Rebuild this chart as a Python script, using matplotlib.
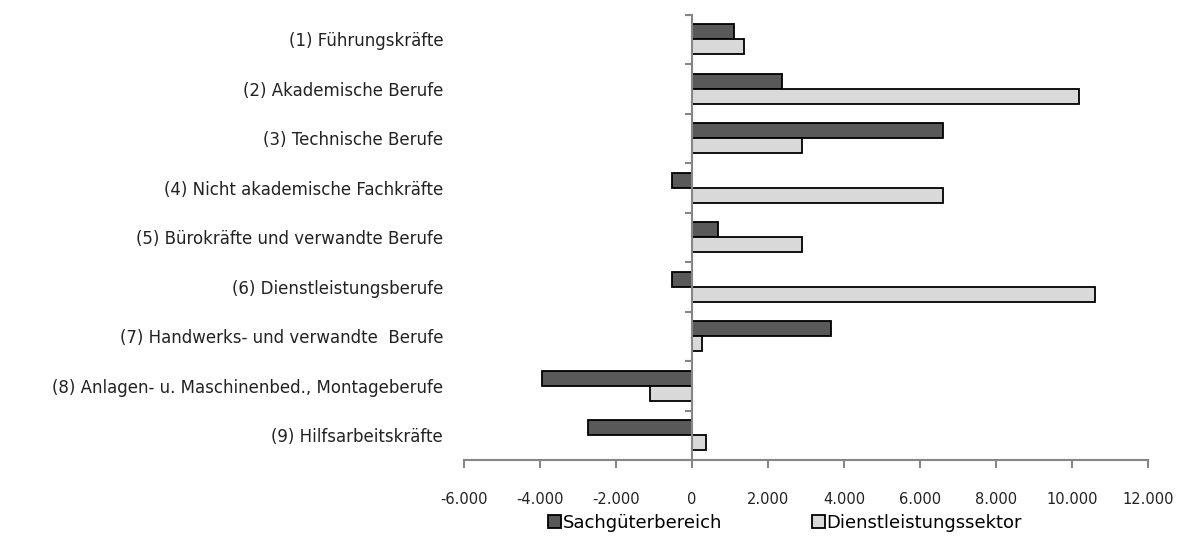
import numpy as np
import matplotlib.pyplot as plt
from matplotlib.ticker import FuncFormatter

plt.rcParams['font.family'] = ['DejaVu Sans']

berufe = ["(1) Führungskräfte",
          "(2) Akademische Berufe",
          "(3) Technische Berufe",
          "(4) Nicht akademische Fachkräfte",
          "(5) Bürokräfte und verwandte Berufe",
          "(6) Dienstleistungsberufe",
          "(7) Handwerks- und verwandte  Berufe",
          "(8) Anlagen- u. Maschinenbed., Montageberufe",
          "(9) Hilfsarbeitskräfte"]
sachgueter = [1100, 2370, 6610, -530, 690, -530, 3670, -3940, -2725]
dienstleistung = [1370, 10180, 2890, 6610, 2890, 10600, 265, -1100, 380]
xticks = [-6000, -4000, -2000, 0, 2000, 4000, 6000, 8000, 10000, 12000]

grau = '#868686'

fig = plt.figure(figsize=(11.77, 5.4), dpi=100)
ax = fig.add_axes([0.3942, 0.1481, 0.5811, 0.825])

y = np.arange(len(berufe))
h = 0.3
ax.barh(y - h/2, sachgueter, height=h, color='#595959', edgecolor='black',
        linewidth=1.3, label='Sachgüterbereich', zorder=3)
ax.barh(y + h/2, dienstleistung, height=h, color='#D9D9D9', edgecolor='black',
        linewidth=1.3, label='Dienstleistungssektor', zorder=3)

ax.set_xlim(-6000, 12000)
ax.set_ylim(len(berufe) - 0.5, -0.5)
ax.set_xticks(xticks)
ax.xaxis.set_major_formatter(FuncFormatter(lambda v, p: f"{int(v):,}".replace(",", ".")))
ax.tick_params(axis='x', length=6, width=1.5, color=grau, labelsize=10.5, pad=17,
               labelcolor='#222222')

ax.set_yticks(y)
ax.set_yticklabels(berufe)
ax.tick_params(axis='y', length=0, labelsize=12, pad=15, labelcolor='#222222')

for s in ['top', 'right', 'left']:
    ax.spines[s].set_visible(False)
ax.spines['bottom'].set_color(grau)
ax.spines['bottom'].set_linewidth(1.5)

# Achse bei 0 mit Teilstrichen an den Kategoriegrenzen
sec = ax.secondary_yaxis(0, transform=ax.transData)
sec.set_yticks(np.arange(len(berufe) + 1) - 0.5)
sec.set_yticklabels([])
sec.tick_params(length=5, width=1.5, color=grau)
sec.spines['left'].set_color(grau)
sec.spines['left'].set_linewidth(1.5)
sec.set_zorder(4)

fig.legend(loc='center', bbox_to_anchor=(0.667, 0.032), ncol=2, frameon=False,
           fontsize=13, handlelength=0.7, handleheight=0.7, handletextpad=0.1,
           columnspacing=5)

fig.savefig('out.png', dpi=100)
